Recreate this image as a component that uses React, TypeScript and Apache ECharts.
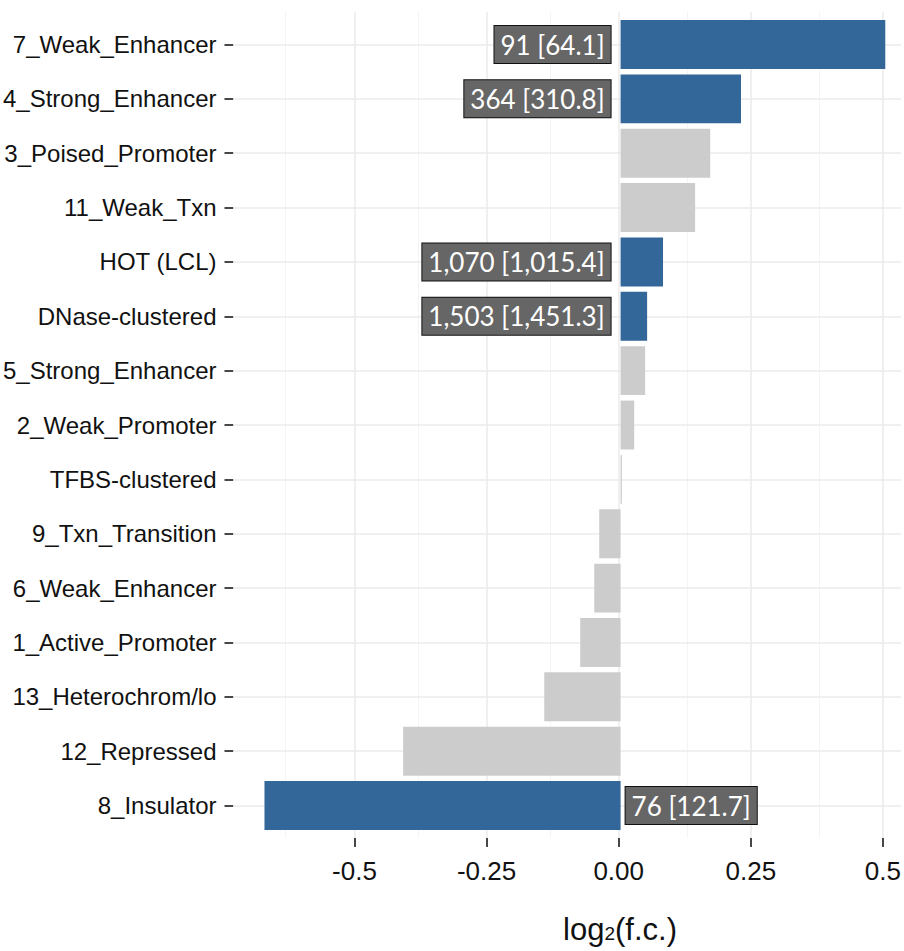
import React, { useEffect, useRef } from "react";
import * as echarts from "echarts";

// Categories, top to bottom
const categories = [
  "7_Weak_Enhancer",
  "4_Strong_Enhancer",
  "3_Poised_Promoter",
  "11_Weak_Txn",
  "HOT (LCL)",
  "DNase-clustered",
  "5_Strong_Enhancer",
  "2_Weak_Promoter",
  "TFBS-clustered",
  "9_Txn_Transition",
  "6_Weak_Enhancer",
  "1_Active_Promoter",
  "13_Heterochrom/lo",
  "12_Repressed",
  "8_Insulator",
];

// log2 fold change
const values = [
  0.499, 0.227, 0.169, 0.1405, 0.08, 0.05, 0.0463, 0.0256, 0.0024,
  -0.0403, -0.0497, -0.0761, -0.1439, -0.41, -0.6714,
];

// Observed [expected] counts, only for significant categories
const countLabels = [
  "91 [64.1]",
  "364 [310.8]",
  "",
  "",
  "1,070 [1,015.4]",
  "1,503 [1,451.3]",
  "",
  "",
  "",
  "",
  "",
  "",
  "",
  "",
  "76 [121.7]",
];

const majorTicks = [-0.5, -0.25, 0, 0.25, 0.5];
const tickLabels = ["-0.5", "-0.25", "0.00", "0.25", "0.5"];
const minorTicks = [-0.625, -0.375, -0.125, 0.125, 0.375];

const X_MIN = -0.7298;
const X_MAX = 0.5343;

export default function App() {
  const ref = useRef<HTMLDivElement>(null);

  useEffect(() => {
    if (!ref.current) return;
    const chart = echarts.init(ref.current, undefined, { renderer: "svg" });

    const gridLines: any[] = [];
    minorTicks.forEach((v) =>
      gridLines.push({ xAxis: v, lineStyle: { color: "#f4f4f4", width: 1, type: "solid" } })
    );
    majorTicks.forEach((v) =>
      gridLines.push({ xAxis: v, lineStyle: { color: "#ebebeb", width: 1.5, type: "solid" } })
    );
    categories.forEach((_, i) =>
      gridLines.push({ yAxis: i, lineStyle: { color: "#ebebeb", width: 1.5, type: "solid" } })
    );

    const barData = values.map((v, i) => {
      const hl = countLabels[i] !== "";
      return {
        value: v,
        itemStyle: { color: hl ? "#336699" : "#cccccc" },
        label: {
          show: hl,
          formatter: countLabels[i],
          position: v >= 0 ? "left" : "right",
          distance: v >= 0 ? 10 : 5,
          color: "#ffffff",
          fontFamily: "Lato",
          fontSize: 26,
          lineHeight: 29,
          backgroundColor: "#666666",
          borderColor: "#111111",
          borderWidth: 1,
          padding: [4, 6, 4, 6],
        },
      };
    });

    const option: any = {
      animation: false,
      backgroundColor: "#ffffff",
      grid: [
        { left: 233, top: 11.9, width: 671, height: 826.2, containLabel: false },
        { left: 233, top: 17.32, width: 671, height: 815.4, containLabel: false },
      ],
      xAxis: [
        {
          type: "value",
          gridIndex: 0,
          position: "bottom",
          min: X_MIN,
          max: X_MAX,
          axisLine: { show: false, onZero: false },
          splitLine: { show: false },
          axisTick: {
            show: true,
            length: 9,
            customValues: majorTicks,
            lineStyle: { color: "#1a1a1a", width: 1.6 },
          },
          axisLabel: {
            show: true,
            customValues: majorTicks,
            margin: 20,
            fontFamily: "Liberation Sans",
            fontSize: 26,
            color: "#111111",
            formatter: (v: number) => {
              const idx = majorTicks.findIndex((t) => Math.abs(t - v) < 1e-9);
              return idx >= 0 ? tickLabels[idx] : "";
            },
          },
          name: "{n|log}{s|2}{n|(f.c.)}",
          nameLocation: "middle",
          nameGap: 76,
          nameTextStyle: {
            padding: [0, 0, 0, 106],
            rich: {
              n: { fontFamily: "Liberation Sans", fontSize: 31, color: "#111111", verticalAlign: "bottom" },
              s: { fontFamily: "Liberation Sans", fontSize: 19, color: "#111111", verticalAlign: "bottom", padding: [0, 0, 2, 0] },
            },
          },
        },
        {
          type: "value",
          gridIndex: 1,
          min: X_MIN,
          max: X_MAX,
          show: false,
          axisLine: { onZero: false },
        },
      ],
      yAxis: [
        {
          type: "value",
          gridIndex: 0,
          min: -0.6,
          max: 14.6,
          inverse: true,
          show: false,
          axisLine: { onZero: false },
        },
        {
          type: "category",
          gridIndex: 1,
          position: "left",
          data: categories,
          inverse: true,
          axisLine: { show: false, onZero: false },
          splitLine: { show: false },
          axisTick: {
            show: true,
            length: 9,
            alignWithLabel: true,
            lineStyle: { color: "#1a1a1a", width: 1.6 },
          },
          axisLabel: {
            margin: 17,
            fontFamily: "Liberation Sans",
            fontSize: 24,
            color: "#111111",
          },
        },
      ],
      series: [
        {
          type: "line",
          xAxisIndex: 0,
          yAxisIndex: 0,
          data: [],
          z: 1,
          silent: true,
          markLine: {
            silent: true,
            z: 1,
            symbol: ["none", "none"],
            label: { show: false },
            data: gridLines,
          },
        },
        {
          type: "bar",
          xAxisIndex: 1,
          yAxisIndex: 1,
          barCategoryGap: "10%",
          z: 3,
          data: barData,
        },
      ],
    };

    chart.setOption(option);
    return () => chart.dispose();
  }, []);

  return (
    <div
      ref={ref}
      style={{ position: "absolute", left: 0, top: 0, width: 904, height: 951 }}
    />
  );
}
